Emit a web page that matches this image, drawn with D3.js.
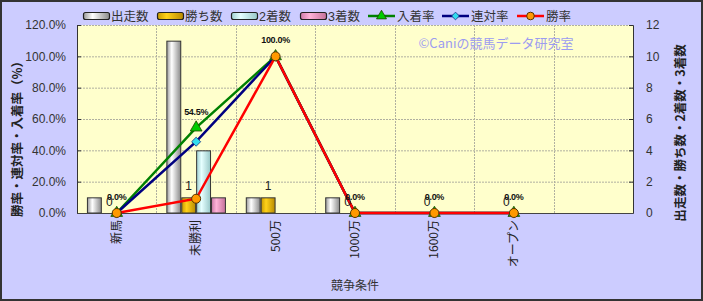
<!DOCTYPE html>
<html><head><meta charset="utf-8">
<script src="https://cdn.jsdelivr.net/npm/d3@7"></script>
<style>
html,body{margin:0;padding:0;background:#ccccff;}
svg{display:block;}
text{font-family:"Liberation Sans","Noto Sans CJK JP",sans-serif;}
.jp{font-family:"Noto Sans CJK JP","Liberation Sans",sans-serif;}
</style></head>
<body>
<script>
// ---- data ----
const categories = ["新馬","未勝利","500万","1000万","1600万","オープン",""];
const runners   = [1,11,1,1,0,0];     // 出走数
const wins      = [0,1,1,0,0,0];      // 勝ち数
const seconds   = [0,4,0,0,0,0];      // 2着数
const thirds    = [0,1,0,0,0,0];      // 3着数
const winRate   = [0,9.1,100,0,0,0];  // 勝率
const rentaiRate= [0,45.5,100,0,0,0]; // 連対率
const placeRate = [0,54.5,100,0,0,0]; // 入着率
const leftTicks = [0,20,40,60,80,100,120];
const rightTicks= [0,2,4,6,8,10,12];
const barSeries = ["出走数","勝ち数","2着数","3着数"];
const lineSeries= ["入着率","連対率","勝率"];

const W=703,H=301;
const m={l:77,r:70,t:25,b:88};
const svg=d3.select("body").append("svg").attr("width",W).attr("height",H);
const defs=svg.append("defs");
function grad(id,edge,mid,edge2){
  const g=defs.append("linearGradient").attr("id",id).attr("x1","0").attr("x2","1").attr("y1","0").attr("y2","0");
  g.append("stop").attr("offset","0%").attr("stop-color",edge);
  g.append("stop").attr("offset","35%").attr("stop-color",mid);
  g.append("stop").attr("offset","100%").attr("stop-color",edge2);
}
grad("g0","#9a9a9a","#ffffff","#8a8a8a");
grad("g1","#c89a00","#ffd21a","#b88a00");
grad("g2","#9fd0d0","#e6ffff","#98c8c8");
grad("g3","#cc7aa8","#ffb3d9","#c47099");
const fills=["url(#g0)","url(#g1)","url(#g2)","url(#g3)"];

svg.append("rect").attr("x",0).attr("y",0).attr("width",W).attr("height",H).attr("fill","#ccccff");
svg.append("rect").attr("x",1).attr("y",1).attr("width",W-2).attr("height",H-2).attr("fill","none").attr("stroke","#333").attr("stroke-width",2);

const pw=633-m.l, ph=213-m.t;
const x=d3.scaleBand().domain(d3.range(categories.length)).range([m.l,633]).padding(0);
const yL=d3.scaleLinear().domain([0,120]).range([213,m.t]);
const yR=d3.scaleLinear().domain([0,12]).range([213,m.t]);
const bw=x.bandwidth();
const x1=d3.scaleBand().domain(d3.range(4)).range([bw*0.125,bw*0.875]).padding(0);

// plot bg
svg.append("rect").attr("x",m.l).attr("y",m.t).attr("width",pw).attr("height",ph).attr("fill","#ffffcc");
// grid
const gh=svg.append("g");
leftTicks.filter(t=>t>0).forEach(t=>{
  gh.append("line").attr("x1",m.l).attr("x2",633).attr("y1",yL(t)+0.5).attr("y2",yL(t)+0.5)
    .attr("stroke","#b0b0a0").attr("stroke-dasharray","2,1");
});
for(let i=1;i<categories.length;i++){
  const xx=Math.round(x(i))+0.5;
  gh.append("line").attr("x1",xx).attr("x2",xx).attr("y1",m.t).attr("y2",213)
    .attr("stroke","#b0b0a0").attr("stroke-dasharray","2,1");
}

// bars
const barData=[runners,wins,seconds,thirds];
barData.forEach((arr,si)=>{
  svg.append("g").selectAll("rect").data(arr.map((v,i)=>({v,i}))).join("rect")
    .filter(d=>d.v>0)
    .attr("x",d=>x(d.i)+x1(si)+0.5)
    .attr("y",d=>yR(d.v)+0.5)
    .attr("width",x1.bandwidth()-1)
    .attr("height",d=>yR(0)-yR(d.v)-0.5)
    .attr("fill",fills[si]).attr("stroke","#333").attr("stroke-width",1);
});

// axes
const axL=svg.append("g").attr("transform",`translate(${m.l},0)`)
  .call(d3.axisLeft(yL).tickValues(leftTicks).tickFormat(d=>d.toFixed(1)+"%").tickSize(-4).tickPadding(11));
axL.select(".domain").attr("stroke","#333");
axL.selectAll(".tick line").attr("stroke","#333");
axL.selectAll("text").attr("fill","#333").attr("font-size",12);
const axR=svg.append("g").attr("transform",`translate(633,0)`)
  .call(d3.axisRight(yR).tickValues(rightTicks).tickSize(-4).tickPadding(13));
axR.select(".domain").attr("stroke","#333");
axR.selectAll(".tick line").attr("stroke","#333");
axR.selectAll("text").attr("fill","#333").attr("font-size",12);
svg.append("line").attr("x1",m.l).attr("x2",633).attr("y1",213.5).attr("y2",213.5).attr("stroke","#444");

// x labels
svg.append("g").selectAll("text").data(categories).join("text").attr("class","jp")
  .attr("transform",(d,i)=>`translate(${x(i)+bw/2+4},${220}) rotate(-90)`)
  .attr("text-anchor","end").attr("font-size",12).attr("fill","#222").text(d=>d);

// lines
const lineDefs=[
  {vals:placeRate,color:"#008000",marker:"tri",fill:"#00cc00"},
  {vals:rentaiRate,color:"#000080",marker:"dia",fill:"#33ddee"},
  {vals:winRate,color:"#ff0000",marker:"circ",fill:"#ff9900"}
];
const line=d3.line().x((d,i)=>x(i)+bw/2).y(d=>yL(d));
lineDefs.forEach(L=>{
  svg.append("path").datum(L.vals).attr("d",line).attr("fill","none").attr("stroke",L.color).attr("stroke-width",2.5);
});
function drawMarker(g,type,cx,cy,fill,s){
  s=s||1;
  if(type==="tri") g.append("path").attr("d",d3.symbol(d3.symbolTriangle,60*s*s)()).attr("transform",`translate(${cx},${cy})`).attr("fill",fill).attr("stroke","#224400").attr("stroke-width",0.8);
  if(type==="dia") g.append("rect").attr("x",-3.2*s).attr("y",-3.2*s).attr("width",6.4*s).attr("height",6.4*s).attr("transform",`translate(${cx},${cy}) rotate(45)`).attr("fill",fill).attr("stroke","#1a3a8a").attr("stroke-width",0.8);
  if(type==="circ") g.append("circle").attr("cx",cx).attr("cy",cy).attr("r",4.5*s).attr("fill",fill).attr("stroke","#553300").attr("stroke-width",1);
}
lineDefs.forEach(L=>{
  const g=svg.append("g");
  L.vals.forEach((v,i)=>drawMarker(g,L.marker,x(i)+bw/2,yL(v),L.fill));
});

// labels: wins
svg.append("g").selectAll("text").data(wins).join("text")
  .attr("x",(d,i)=>x(i)+x1(1)+x1.bandwidth()/2).attr("y",d=>yR(d)-7)
  .attr("text-anchor","middle").attr("font-size",12).attr("fill","#222").text(d=>d);
// labels: place rate
svg.append("g").selectAll("text").data(placeRate).join("text")
  .attr("x",(d,i)=>x(i)+bw/2).attr("y",d=>yL(d)-13)
  .attr("text-anchor","middle").attr("font-size",9).attr("font-weight","bold").attr("letter-spacing","-0.3").attr("fill","#111").text(d=>d.toFixed(1)+"%");

// watermark
svg.append("text").attr("class","jp").attr("x",496).attr("y",48).attr("text-anchor","middle")
  .attr("font-size",13).attr("fill","#9c9cf0").text("©Caniの競馬データ研究室");

// axis titles
svg.append("text").attr("class","jp").attr("transform",`translate(22,136) rotate(-90)`).attr("text-anchor","middle")
  .attr("font-size",12.5).attr("font-weight","bold").attr("fill","#222").text("勝率・連対率・入着率（%）");
svg.append("text").attr("class","jp").attr("transform",`translate(685,133) rotate(-90)`).attr("text-anchor","middle")
  .attr("font-size",12.5).attr("font-weight","bold").attr("fill","#222").text("出走数・勝ち数・2着数・3着数");
svg.append("text").attr("class","jp").attr("x",355).attr("y",290).attr("text-anchor","middle")
  .attr("font-size",12).attr("fill","#333").text("競争条件");

// legend
const lg=svg.append("g").attr("class","jp");
const barLegX=[83,157,231,300];
barSeries.forEach((s,i)=>{
  lg.append("rect").attr("x",barLegX[i]+0.5).attr("y",12.5).attr("width",26).attr("height",7).attr("rx",2)
    .attr("fill",fills[i]).attr("stroke","#222").attr("stroke-width",1.2);
  lg.append("text").attr("x",barLegX[i]+28).attr("y",21).attr("font-size",12.5).attr("fill","#333").text(s);
});
const lineLegX=[368,442,517];
lineSeries.forEach((s,i)=>{
  const L=lineDefs[i];
  lg.append("line").attr("x1",lineLegX[i]).attr("x2",lineLegX[i]+27).attr("y1",16).attr("y2",16).attr("stroke",L.color).attr("stroke-width",2.5);
  drawMarker(lg,L.marker,lineLegX[i]+13.5,16,L.fill,0.85);
  lg.append("text").attr("x",lineLegX[i]+29).attr("y",21).attr("font-size",12.5).attr("fill","#333").text(s);
});
</script>
</body></html>
